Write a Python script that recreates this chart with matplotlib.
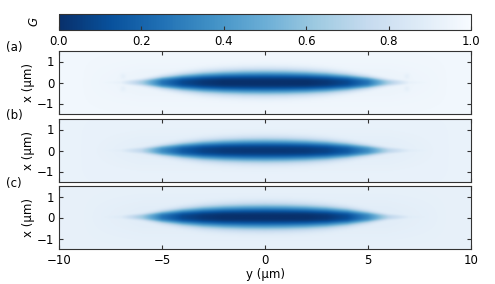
import matplotlib
matplotlib.use("Agg")
import matplotlib.pyplot as plt
import numpy as np

plt.rcParams['font.size'] = 8.5

y_knots = [-10, -9, -8, -7, -6, -5, -4, -3, -2, -1, 0, 1, 2, 3, 4, 5, 6, 7, 8, 9, 10]
width_a = [0.05, 0.05, 0.05, 0.08, 0.16, 0.28, 0.38, 0.46, 0.51, 0.54, 0.55, 0.54, 0.51, 0.46, 0.38, 0.28, 0.16, 0.08, 0.05, 0.05, 0.05]
width_b = [0.05, 0.05, 0.05, 0.08, 0.14, 0.25, 0.35, 0.43, 0.48, 0.51, 0.52, 0.51, 0.48, 0.43, 0.35, 0.25, 0.14, 0.08, 0.05, 0.05, 0.05]
width_c = [0.05, 0.05, 0.05, 0.08, 0.15, 0.27, 0.37, 0.45, 0.50, 0.53, 0.54, 0.53, 0.50, 0.45, 0.37, 0.26, 0.13, 0.07, 0.05, 0.05, 0.05]
depth_a = [0.0, 0.0, 0.0, 0.03, 0.3, 0.72, 0.9, 0.97, 1.0, 1.0, 1.0, 1.0, 1.0, 0.97, 0.9, 0.72, 0.3, 0.03, 0.0, 0.0, 0.0]
depth_b = [0.0, 0.0, 0.0, 0.02, 0.2, 0.62, 0.85, 0.95, 0.99, 1.0, 1.0, 1.0, 0.99, 0.95, 0.85, 0.62, 0.22, 0.03, 0.0, 0.0, 0.0]
depth_c = [0.0, 0.0, 0.0, 0.03, 0.28, 0.7, 0.9, 0.97, 1.0, 1.0, 1.0, 1.0, 1.0, 0.97, 0.88, 0.62, 0.2, 0.02, 0.0, 0.0, 0.0]
halo = [0.0, 0.0, 0.01, 0.02, 0.03, 0.03, 0.03, 0.03, 0.03, 0.03, 0.03, 0.03, 0.03, 0.03, 0.03, 0.03, 0.03, 0.02, 0.01, 0.0, 0.0]
background = [0.97, 0.93, 0.92]
core = [0.03, 0.06, 0.03]
panel_labels = ["(a)", "(b)", "(c)"]
cbar_ticks = [0.0, 0.2, 0.4, 0.6, 0.8, 1.0]

yy = np.linspace(-10, 10, 600)
xx = np.linspace(-1.5, 1.5, 120)
Y, X = np.meshgrid(yy, xx)


def field(widths, depths, bg, c):
    w = np.interp(yy, y_knots, widths)[None, :]
    d = np.interp(yy, y_knots, depths)[None, :]
    h = np.interp(yy, y_knots, halo)[None, :]
    g = bg - (bg - c) * d * np.exp(-(np.abs(X) / w) ** 2.6)
    g = g - h * np.exp(-(X / 0.9) ** 2)
    return np.clip(g, 0, 1)


fields = [field(width_a, depth_a, background[0], core[0]),
          field(width_b, depth_b, background[1], core[1]),
          field(width_c, depth_c, background[2], core[2])]
# faint spots near the tips in (a)
for sy in (-6.9, 6.9):
    for sx in (-0.3, 0.3):
        fields[0] -= 0.04 * np.exp(-((X - sx) ** 2 + (Y - sy) ** 2) / 0.02)

fig = plt.figure(figsize=(4.95, 2.84), dpi=100)
W, H = 495, 284
left, right = 59 / W, 471 / W
cax = fig.add_axes([left, 1 - 30 / H, right - left, 16 / H])
tops = [51, 119, 186]
axes = []
for t in tops:
    axes.append(fig.add_axes([left, 1 - (t + 63) / H, right - left, 63 / H]))

for i, ax in enumerate(axes):
    im = ax.imshow(fields[i], cmap="Blues_r", vmin=0, vmax=1, origin="lower",
                   extent=[-10, 10, -1.5, 1.5], aspect="auto", interpolation="bilinear")
    ax.set_xlim(-10, 10)
    ax.set_ylim(-1.5, 1.5)
    ax.set_xticks([-10, -5, 0, 5, 10])
    ax.set_yticks([-1, 0, 1])
    ax.tick_params(direction="in", top=True, right=True, length=3, color="#333333")
    for s in ax.spines.values():
        s.set_color("#333333")
    ax.set_ylabel("x (µm)", labelpad=1)
    if i < 2:
        ax.tick_params(labelbottom=False)
    fig.text(6 / W, 1 - (tops[i] - 3) / H, panel_labels[i], ha="left", va="center")
axes[2].set_xlabel("y (µm)", labelpad=1)

cb = fig.colorbar(im, cax=cax, orientation="horizontal")
cb.set_ticks(cbar_ticks)
cb.ax.tick_params(direction="in", length=3, color="#333333")
cb.outline.set_edgecolor("#333333")
cax.text(-0.06, 0.5, "$G$", rotation=90, transform=cax.transAxes, ha="center", va="center")

fig.savefig("out.png", dpi=100)
